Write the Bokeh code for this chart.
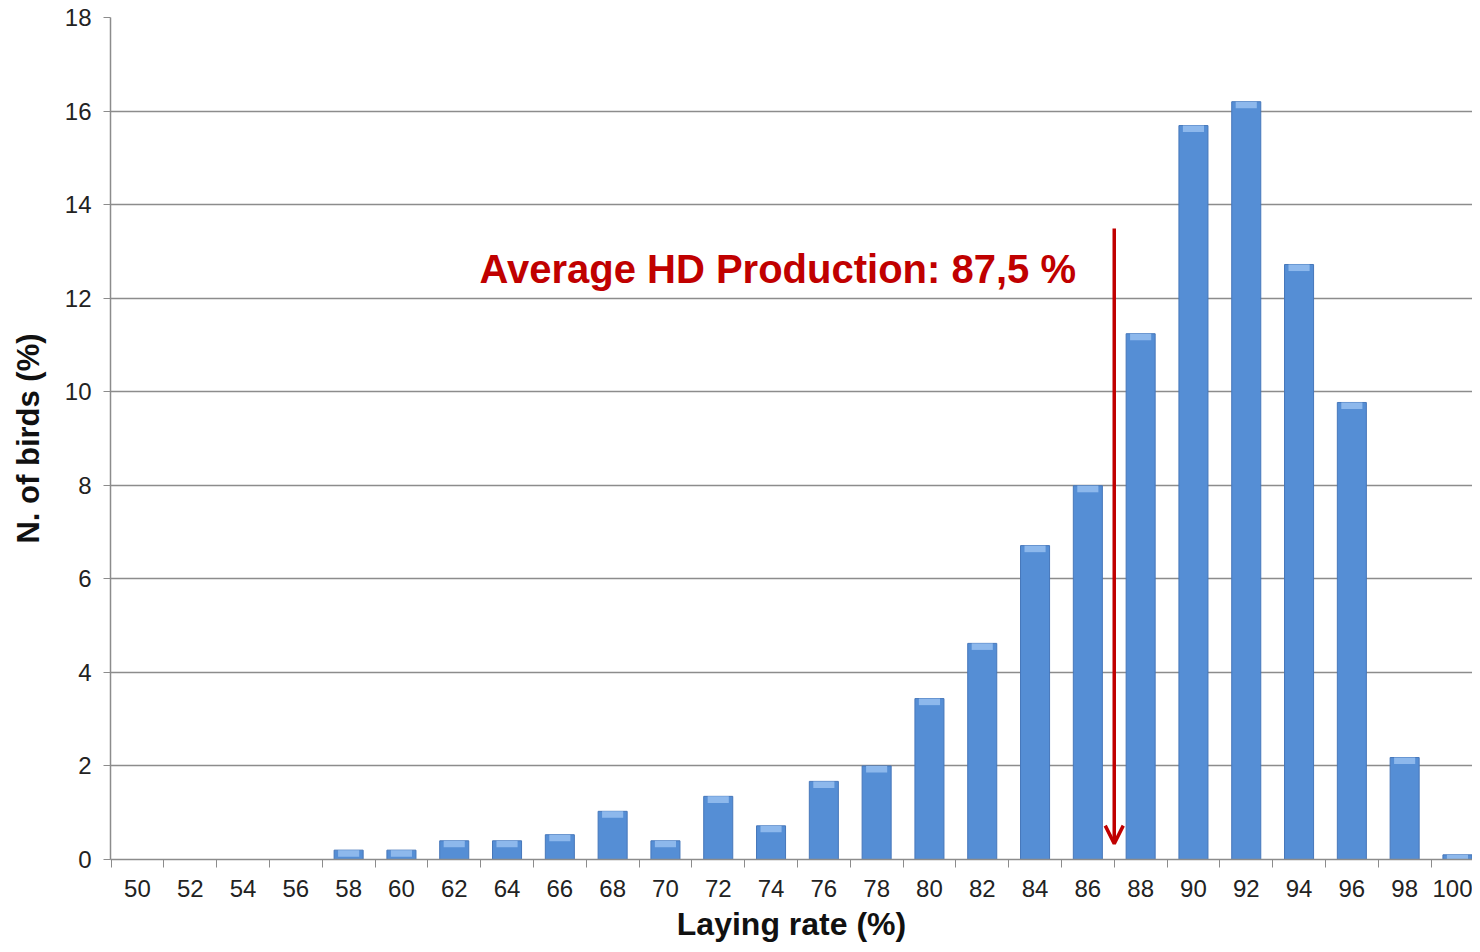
from bokeh.plotting import figure
from bokeh.models import FixedTicker, Arrow, OpenHead, Range1d, ColumnDataSource
from bokeh.core.properties import value
from bokeh.embed import file_html
from bokeh.resources import INLINE

laying_rate = [50, 52, 54, 56, 58, 60, 62, 64, 66, 68, 70, 72, 74, 76, 78, 80, 82, 84, 86, 88, 90, 92, 94, 96, 98, 100]
birds_pct = [0, 0, 0, 0, 0.2, 0.2, 0.4, 0.4, 0.53, 1.03, 0.4, 1.35, 0.72, 1.67, 2.0, 3.44, 4.62, 6.71, 7.99, 11.24, 15.69, 16.2, 12.72, 9.77, 2.18, 0.1]
y_ticks = [0, 2, 4, 6, 8, 10, 12, 14, 16, 18]
avg_x = 87
avg_label = "Average HD Production: 87,5 %"

W, H = 1472, 944
p = figure(width=W, height=H, output_backend="svg", toolbar_location=None,
           x_range=Range1d(48.98, 100.57), y_range=Range1d(0, 18),
           min_border_left=110, min_border_right=0, min_border_top=17, min_border_bottom=85)
p.outline_line_color = None
p.background_fill_color = "white"

# grid
p.xgrid.grid_line_color = None
p.ygrid.ticker = FixedTicker(ticks=y_ticks)
p.ygrid.grid_line_color = "#8c8c8c"
p.ygrid.grid_line_width = 1.5

# bars
src = ColumnDataSource(dict(x=laying_rate, top=birds_pct,
                            hl=[t - min(t, 0.14) for t in birds_pct]))
p.vbar(x="x", top="top", bottom=0, width=1.1, source=src,
       fill_color="#558ED5", line_color="#4677BA", line_width=1)
p.vbar(x="x", top="top", bottom="hl", width=0.8, source=src,
       fill_color="#8DB8EC", line_color=None)

# axes
ya = p.yaxis[0]
ya.ticker = FixedTicker(ticks=y_ticks)
ya.axis_line_color = "#8c8c8c"
ya.axis_line_width = 1.5
ya.major_tick_line_color = "#8c8c8c"
ya.major_tick_out = 7
ya.major_tick_in = 0
ya.minor_tick_line_color = None
ya.major_label_text_font = "Liberation Sans"
ya.major_label_text_font_size = "24px"
ya.major_label_text_color = "#222222"
ya.major_label_standoff = 12
ya.axis_label = "N. of birds (%)"
ya.axis_label_text_font = "Liberation Sans"
ya.axis_label_text_font_style = "bold"
ya.axis_label_text_font_size = "31px"
ya.axis_label_text_color = "#111111"
ya.axis_label_standoff = 16

xa = p.xaxis[0]
xa.ticker = FixedTicker(ticks=laying_rate, minor_ticks=[v - 1 for v in laying_rate] + [101])
xa.axis_line_color = "#8c8c8c"
xa.axis_line_width = 1.5
xa.major_tick_line_color = None
xa.major_tick_out = 0
xa.major_tick_in = 0
xa.minor_tick_line_color = "#8c8c8c"
xa.minor_tick_out = 8
xa.minor_tick_in = 0
xa.major_label_text_font = "Liberation Sans"
xa.major_label_text_font_size = "24px"
xa.major_label_text_color = "#222222"
xa.major_label_standoff = 12
xa.axis_label = "Laying rate (%)"
xa.axis_label_text_font = "Liberation Sans"
xa.axis_label_text_font_style = "bold"
xa.axis_label_text_font_size = "32px"
xa.axis_label_text_color = "#111111"
xa.axis_label_standoff = 6

# annotation
p.add_layout(Arrow(end=OpenHead(line_color="#C00000", line_width=3.5, size=18),
                   x_start=avg_x, y_start=13.49, x_end=avg_x, y_end=0.34,
                   line_color="#C00000", line_width=3.5))
p.text(x=[85.55], y=[12.63], text=[avg_label], text_align="right", text_baseline="alphabetic",
       text_font=value("Liberation Sans"), text_font_style="bold",
       text_font_size="40px", text_color="#C00000")

open("out.html", "w").write(file_html(p, INLINE))
